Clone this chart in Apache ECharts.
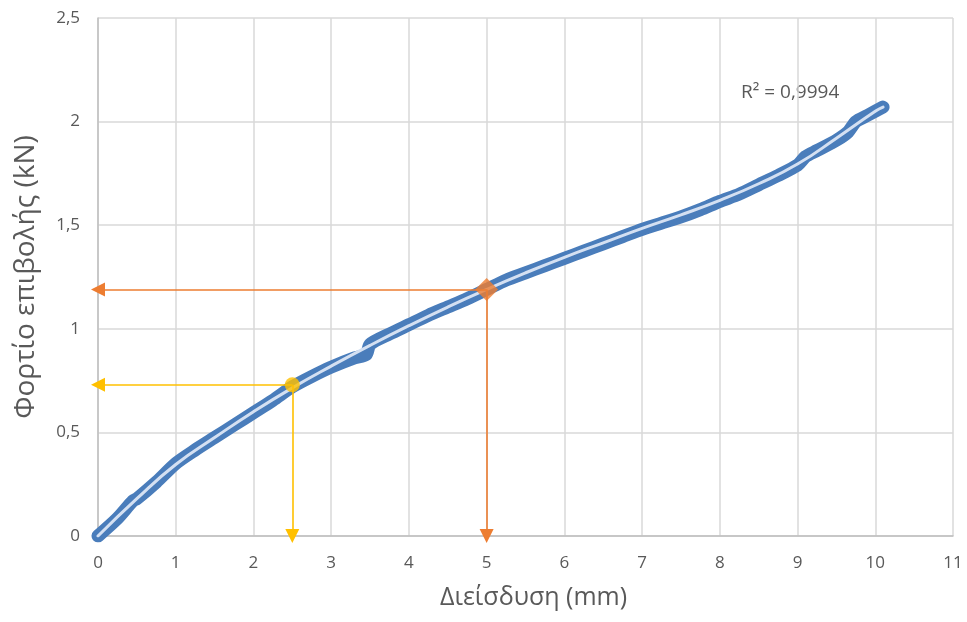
<!DOCTYPE html>
<html>
<head>
    <meta charset="utf-8">
    <title>Φορτίο - Διείσδυση</title>
    <script src="https://cdn.jsdelivr.net/npm/echarts@6/dist/echarts.min.js"></script>
    <style>
        html, body { margin: 0; padding: 0; background: #fff; }
        #chart1 { width: 967px; height: 622px; }
    </style>
</head>
<body>
<div id="chart1"></div>
<script type="text/javascript">
    // μετρήσεις (mm, kN)
    var measX = [0, 0.25, 0.45, 0.5, 0.75, 1.0, 1.25, 1.5, 1.75, 2.0, 2.25, 2.5, 2.75, 3.0, 3.3, 3.45, 3.5, 3.75, 4.0, 4.25, 4.5, 4.75, 5.0, 5.25, 5.5, 5.75, 6.0, 6.25, 6.5, 6.75, 7.0, 7.25, 7.5, 7.75, 8.0, 8.25, 8.5, 8.75, 9.0, 9.1, 9.25, 9.5, 9.65, 9.75, 9.9, 10.1];
    var measY = [0, 0.085, 0.17, 0.18, 0.26, 0.35, 0.415, 0.475, 0.535, 0.595, 0.655, 0.72, 0.77, 0.815, 0.86, 0.875, 0.925, 0.975, 1.02, 1.065, 1.105, 1.145, 1.19, 1.235, 1.27, 1.305, 1.34, 1.375, 1.41, 1.445, 1.48, 1.51, 1.54, 1.575, 1.615, 1.65, 1.695, 1.74, 1.79, 1.83, 1.86, 1.91, 1.95, 2.0, 2.03, 2.07];

    // γραμμή τάσης
    var trendX = [0, 0.5, 1, 1.5, 2, 2.5, 3, 3.5, 4, 4.5, 5, 5.5, 6, 6.5, 7, 7.5, 8, 8.5, 9, 9.5, 10, 10.1];
    var trendY = [0, 0.18, 0.345, 0.475, 0.6, 0.715, 0.82, 0.92, 1.015, 1.105, 1.19, 1.27, 1.345, 1.415, 1.485, 1.55, 1.62, 1.70, 1.795, 1.92, 2.05, 2.07];

    // σημεία ανάγνωσης
    var pointOrange = [5, 1.19];
    var pointYellow = [2.5, 0.73];

    function pairs(xs, ys) {
        var out = [];
        for (var i = 0; i < xs.length; i++) out.push([xs[i], ys[i]]);
        return out;
    }
    function comma(v) { return String(v).replace('.', ','); }

    var myChart1 = echarts.init(document.getElementById('chart1'));
    var txt = '#595959';
    var fnt = '"Open Sans", "Noto Sans", sans-serif';

    function arrows(p, color) {
        return {
            silent: true,
            symbol: ['none', 'triangle'],
            symbolSize: [14, 14],
            label: { show: false },
            lineStyle: { color: color, width: 1.6, type: 'solid' },
            data: [
                [{ coord: p }, { coord: [0, p[1]] }],
                [{ coord: p }, { coord: [p[0], 0] }]
            ]
        };
    }

    myChart1.setOption({
        animation: false,
        textStyle: { fontFamily: fnt },
        grid: { left: 98, right: 14, top: 18, bottom: 86 },
        xAxis: {
            type: 'value', min: 0, max: 11, interval: 1,
            name: 'Διείσδυση (mm)', nameLocation: 'middle', nameGap: 49,
            nameTextStyle: { color: txt, fontSize: 25, fontFamily: fnt, padding: [0, 0, 0, 16] },
            axisLine: { show: true, lineStyle: { color: '#bfbfbf', width: 1.5 } },
            axisTick: { show: false },
            axisLabel: { color: txt, fontSize: 17, margin: 19, formatter: comma },
            splitLine: { show: true, lineStyle: { color: '#d9d9d9', width: 1.5 } }
        },
        yAxis: {
            type: 'value', min: 0, max: 2.5, interval: 0.5,
            name: 'Φορτίο επιβολής (kN)', nameLocation: 'middle', nameGap: 58,
            nameTextStyle: { color: txt, fontSize: 28, fontFamily: fnt },
            axisLine: { show: true, lineStyle: { color: '#bfbfbf', width: 1.5 } },
            axisTick: { show: false },
            axisLabel: { color: txt, fontSize: 17, margin: 18, formatter: comma },
            splitLine: { show: true, lineStyle: { color: '#d9d9d9', width: 1.5 } }
        },
        graphic: [{
            type: 'text', left: 741, top: 83,
            style: { text: 'R² = 0,9994', fill: txt, font: '19px ' + fnt }
        }],
        series: [
            {
                name: 'μετρήσεις',
                type: 'line',
                data: pairs(measX, measY),
                showSymbol: false,
                smooth: 0.25,
                lineStyle: { color: '#4a7dbb', width: 13, cap: 'round', join: 'round' },
                z: 2
            },
            {
                name: 'τάση',
                type: 'line',
                data: pairs(trendX, trendY),
                showSymbol: false,
                smooth: true,
                lineStyle: { color: '#d4e0f2', width: 3, cap: 'round' },
                z: 3
            },
            {
                name: 'πορτοκαλί',
                type: 'scatter',
                data: [pointOrange],
                symbol: 'diamond',
                symbolSize: 23,
                itemStyle: { color: '#ed7d31' },
                markLine: arrows(pointOrange, '#ed7d31'),
                z: 5
            },
            {
                name: 'κίτρινο',
                type: 'scatter',
                data: [pointYellow],
                symbol: 'circle',
                symbolSize: 15,
                itemStyle: { color: '#ffc000' },
                markLine: arrows(pointYellow, '#ffc000'),
                z: 5
            }
        ]
    });
</script>
</body>
</html>
